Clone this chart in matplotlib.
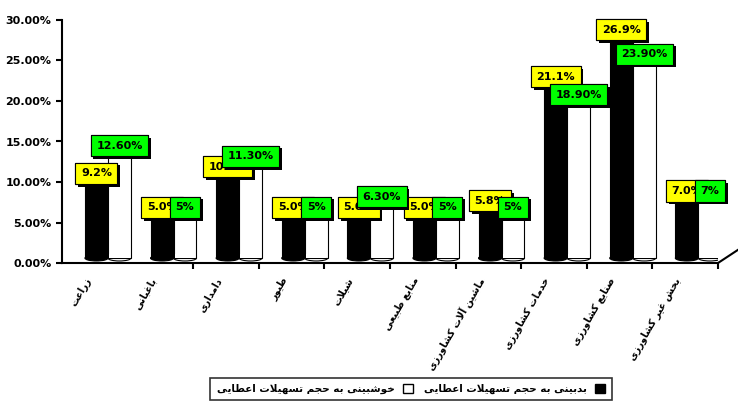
import matplotlib
matplotlib.use('Agg')
import matplotlib.pyplot as plt
import matplotlib.patheffects as pe
from matplotlib.patches import Rectangle, Ellipse, Patch
import numpy as np

categories = ['زراعت', 'باغبانی', 'دامداری', 'طیور', 'شیلات', 'منابع طبیعی',
              'ماشین آلات کشاورزی', 'خدمات کشاورزی', 'صنایع کشاورزی', 'بخش غیر کشاورزی']
pessimist = [9.2, 5.0, 10.0, 5.0, 5.0, 5.0, 5.8, 21.1, 26.9, 7.0]
optimist = [12.6, 5.0, 11.3, 5.0, 6.3, 5.0, 5.0, 18.9, 23.9, 7.0]
pessimist_labels = ['9.2%', '5.0%', '10.0%', '5.0%', '5.0%', '5.0%', '5.8%', '21.1%', '26.9%', '7.0%']
optimist_labels = ['12.60%', '5%', '11.30%', '5%', '6.30%', '5%', '5%', '18.90%', '23.90%', '7%']
legend_labels = ['خوشبینی به حجم تسهیلات اعطایی', 'بدبینی به حجم تسهیلات اعطایی']
yticks = [0, 5, 10, 15, 20, 25, 30]

# minimal persian shaping (matplotlib has no bidi / joining)
FORMS = {
    'ا': ('\uFE8D', '\uFE8E'), 'آ': ('\uFE81', '\uFE82'),
    'د': ('\uFEA9', '\uFEAA'), 'ذ': ('\uFEAB', '\uFEAC'),
    'ر': ('\uFEAD', '\uFEAE'), 'ز': ('\uFEAF', '\uFEB0'),
    'ژ': ('\uFB8A', '\uFB8B'), 'و': ('\uFEED', '\uFEEE'),
    'ب': ('\uFE8F', '\uFE90', '\uFE91', '\uFE92'), 'پ': ('\uFB56', '\uFB57', '\uFB58', '\uFB59'),
    'ت': ('\uFE95', '\uFE96', '\uFE97', '\uFE98'), 'ث': ('\uFE99', '\uFE9A', '\uFE9B', '\uFE9C'),
    'ج': ('\uFE9D', '\uFE9E', '\uFE9F', '\uFEA0'), 'چ': ('\uFB7A', '\uFB7B', '\uFB7C', '\uFB7D'),
    'ح': ('\uFEA1', '\uFEA2', '\uFEA3', '\uFEA4'), 'خ': ('\uFEA5', '\uFEA6', '\uFEA7', '\uFEA8'),
    'س': ('\uFEB1', '\uFEB2', '\uFEB3', '\uFEB4'), 'ش': ('\uFEB5', '\uFEB6', '\uFEB7', '\uFEB8'),
    'ص': ('\uFEB9', '\uFEBA', '\uFEBB', '\uFEBC'), 'ض': ('\uFEBD', '\uFEBE', '\uFEBF', '\uFEC0'),
    'ط': ('\uFEC1', '\uFEC2', '\uFEC3', '\uFEC4'), 'ظ': ('\uFEC5', '\uFEC6', '\uFEC7', '\uFEC8'),
    'ع': ('\uFEC9', '\uFECA', '\uFECB', '\uFECC'), 'غ': ('\uFECD', '\uFECE', '\uFECF', '\uFED0'),
    'ف': ('\uFED1', '\uFED2', '\uFED3', '\uFED4'), 'ق': ('\uFED5', '\uFED6', '\uFED7', '\uFED8'),
    'ک': ('\uFB8E', '\uFB8F', '\uFB90', '\uFB91'), 'گ': ('\uFB92', '\uFB93', '\uFB94', '\uFB95'),
    'ل': ('\uFEDD', '\uFEDE', '\uFEDF', '\uFEE0'), 'م': ('\uFEE1', '\uFEE2', '\uFEE3', '\uFEE4'),
    'ن': ('\uFEE5', '\uFEE6', '\uFEE7', '\uFEE8'), 'ه': ('\uFEE9', '\uFEEA', '\uFEEB', '\uFEEC'),
    'ی': ('\uFBFC', '\uFBFD', '\uFBFE', '\uFBFF'),
}


def shape(s):
    out = []
    i = 0
    while i < len(s):
        c = s[i]
        prev = s[i - 1] if i > 0 else ''
        joins_prev = c in FORMS and prev in FORMS and len(FORMS[prev]) == 4
        if c == 'ل' and i + 1 < len(s) and s[i + 1] in 'اآ':
            lig = ('\uFEFB', '\uFEFC') if s[i + 1] == 'ا' else ('\uFEF5', '\uFEF6')
            out.append(lig[1] if joins_prev else lig[0])
            i += 2
            continue
        if c not in FORMS:
            out.append(c)
            i += 1
            continue
        nxt = s[i + 1] if i + 1 < len(s) else ''
        joins_next = len(FORMS[c]) == 4 and nxt in FORMS
        f = FORMS[c]
        if joins_prev and joins_next:
            out.append(f[3])
        elif joins_prev:
            out.append(f[1])
        elif joins_next:
            out.append(f[2])
        else:
            out.append(f[0])
        i += 1
    return ''.join(out)[::-1]


plt.rcParams['font.family'] = ['DejaVu Sans']
fig = plt.figure(figsize=(7.38, 4.11), dpi=100)
ax = fig.add_axes([62 / 738, 1 - 263 / 411, 656 / 738, 243 / 411])

n = len(categories)
x = np.arange(n)
w = 0.35
lift = 0.6      # fake 3d depth
shift = 0.35

for i in range(n):
    for j, (vals, col) in enumerate([(pessimist, 'black'), (optimist, 'white')]):
        left = x[i] + shift + j * w
        ax.add_patch(Rectangle((left, lift), w, vals[i], facecolor=col,
                               edgecolor='black', lw=0.8, zorder=2))
        ax.add_patch(Ellipse((left + w / 2, lift), w, 0.7, facecolor=col,
                             edgecolor='black', lw=0.8, zorder=1.9))
        if col == 'white':
            ax.add_patch(Rectangle((left + 0.02, lift + 0.05), w - 0.04, 0.4,
                                   facecolor='white', edgecolor='none', zorder=2.1))

shadow = [pe.withSimplePatchShadow(offset=(2, -2), shadow_rgbFace='black', alpha=1.0), pe.Normal()]
for vals, labs, col, j in [(pessimist, pessimist_labels, '#ffff00', 0),
                           (optimist, optimist_labels, '#00ff00', 1)]:
    for i in range(n):
        t = ax.annotate(labs[i], (x[i] + shift + j * w + w / 2, vals[i] + lift),
                        xytext=(0, 7.5), textcoords='offset points',
                        ha='center', va='center', fontsize=8, fontweight='bold',
                        color='black', zorder=5,
                        bbox=dict(boxstyle='square,pad=0.5', fc=col, ec='black', lw=0.8))
        t.get_bbox_patch().set_path_effects(shadow)

ax.set_xlim(0, n)
ax.set_ylim(0, 30)
ax.set_yticks(yticks)
ax.set_yticklabels(['%.2f%%' % v for v in yticks], fontsize=8, fontweight='bold')
ax.set_xticks(np.arange(2, n + 1))
ax.set_xticklabels([])
ax.set_xticks(x + 0.4, minor=True)
ax.set_xticklabels([shape(c) for c in categories], minor=True, rotation=60,
                   ha='right', va='center', rotation_mode='anchor', fontsize=7, fontweight='bold')
ax.tick_params(axis='x', which='minor', length=0, pad=11)
ax.tick_params(axis='both', which='major', length=4, width=1.5, direction='out')
for s in ['top', 'right']:
    ax.spines[s].set_visible(False)
for s in ['left', 'bottom']:
    ax.spines[s].set_linewidth(1.5)
ax.plot([n, n + 0.3], [0, 1.6], color='black', lw=1.5, clip_on=False)

handles = [Patch(facecolor='white', edgecolor='black'), Patch(facecolor='black', edgecolor='black')]
leg = fig.legend(handles, [shape(l) for l in legend_labels], ncol=2, markerfirst=False,
                 loc='center', bbox_to_anchor=(411 / 738, 1 - 389 / 411),
                 frameon=True, fancybox=False, edgecolor='black',
                 prop=dict(weight='bold', size=7.5), handlelength=1.0, handleheight=1.0,
                 columnspacing=1.0, borderpad=0.6)
leg.get_frame().set_linewidth(1.2)

fig.savefig('out.png', dpi=100)
